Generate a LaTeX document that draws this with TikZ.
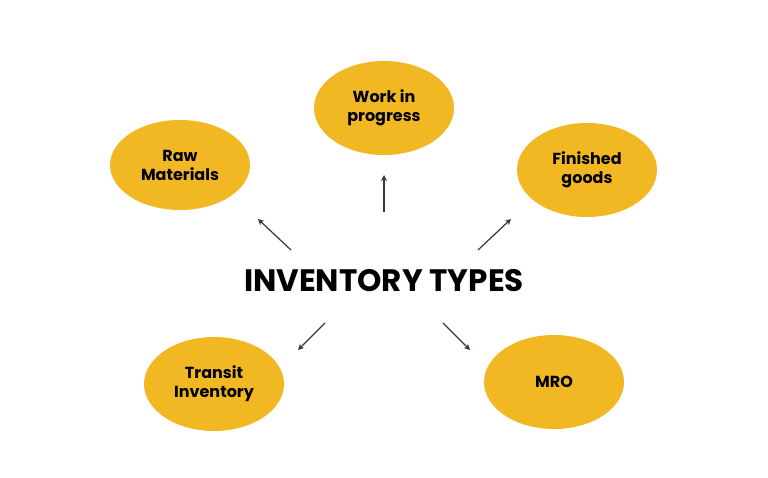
\documentclass[tikz,border=0pt]{standalone}
\usepackage{fontspec}
\setmainfont{Poppins}
\usetikzlibrary{shapes.geometric,arrows.meta}
\definecolor{ell}{HTML}{F2B824}
\definecolor{arr}{HTML}{3A3A2A}
\begin{document}
\begin{tikzpicture}[x=1pt,y=-1pt,
  blob/.style={ellipse,fill=ell,draw=none,minimum width=140pt,minimum height=94pt,align=center,font=\fontsize{16}{19}\selectfont\bfseries,text=black},
  conn/.style={draw=arr,line width=1.2pt,-{Stealth[length=6pt,width=6pt]}}]
\useasboundingbox (0,0) rectangle (768,477);
\fill[white] (0,0) rectangle (768,477);
\node[blob] (wip) at (384,108) {Work in\\progress};
\node[blob,minimum height=90pt] (raw) at (180,165) {Raw\\Materials};
\node[blob] (fin) at (587,170) {Finished\\goods};
\node[blob] (tra) at (214,384) {Transit\\Inventory};
\node[blob] (mro) at (554,382) {MRO};
\node[font=\fontsize{31}{36}\selectfont\bfseries] (title) at (384,281) {INVENTORY TYPES};
\coordinate (a1s) at (291,250); \coordinate (a1e) at (258,219);
\coordinate (a2s) at (384,212); \coordinate (a2e) at (384,175);
\coordinate (a3s) at (478,250); \coordinate (a3e) at (511,219);
\coordinate (a4s) at (325,323); \coordinate (a4e) at (298,350);
\coordinate (a5s) at (443,323); \coordinate (a5e) at (470,350);
\draw[conn] (a1s) -- (a1e);
\draw[conn] (a2s) -- (a2e);
\draw[conn] (a3s) -- (a3e);
\draw[conn] (a4s) -- (a4e);
\draw[conn] (a5s) -- (a5e);
\end{tikzpicture}
\end{document}
